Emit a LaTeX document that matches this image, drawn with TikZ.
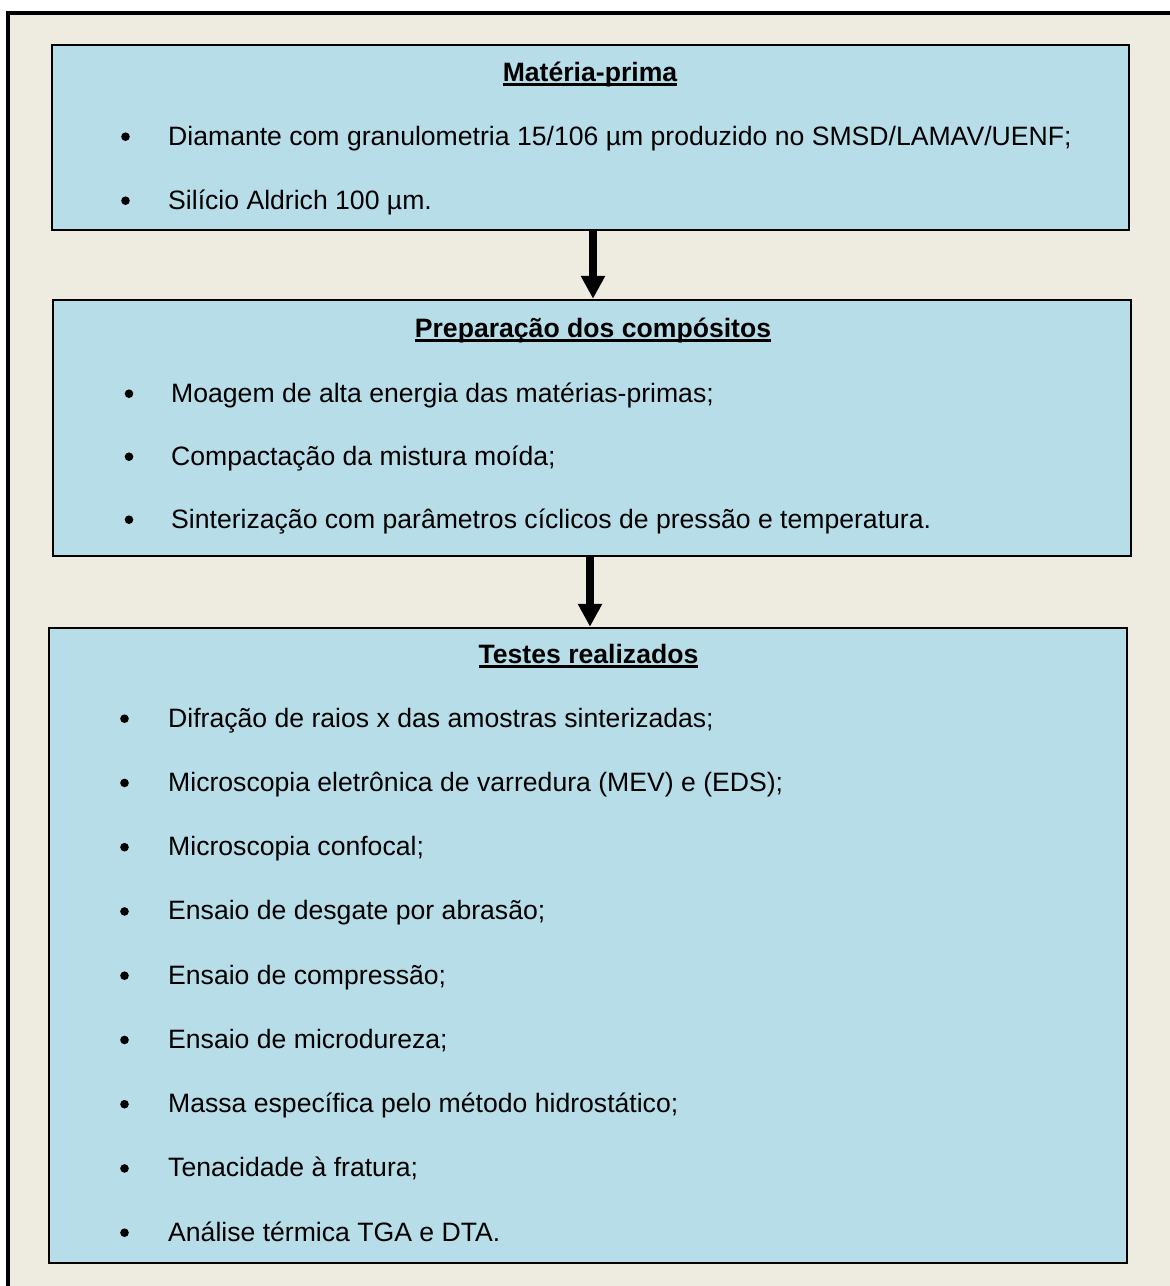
\documentclass[tikz,border=0pt]{standalone}
\usepackage{fontspec}
\setmainfont{Liberation Sans}
\usetikzlibrary{arrows.meta}
\definecolor{panel}{HTML}{B7DDE8}
\definecolor{paper}{HTML}{EEECE1}
% bold heading with a rule at a fixed depth under the baseline
\newcommand\headul[1]{\setbox0\hbox{\bfseries #1}\rlap{\rule[-5pt]{\wd0}{2.6pt}}\box0}
\begin{document}
\begin{tikzpicture}[x=1pt,y=-1pt,
  font=\fontsize{26.6}{32}\selectfont,
  box/.style={draw=black, line width=2.5pt, fill=panel, rectangle, inner sep=0pt},
  item/.style={anchor=base west, inner sep=0pt},
  dot/.style={circle, fill=black, inner sep=0pt, minimum size=8.6pt},
  head/.style={anchor=base, inner sep=0pt},
  flow/.style={line width=8pt, -{Triangle[width=23pt,length=23pt]}}]
\useasboundingbox (0,0) rectangle (1170,1286);
\fill[white] (0,0) rectangle (1170,1286);
% outer frame, running past the right and bottom edges
\draw[line width=3.5pt, fill=paper] (8,13) rectangle (1200,1320);

% boxes
\node[box, minimum width=1077pt, minimum height=185pt] (b1) at (590.5,137.5) {};
\node[box, minimum width=1078pt, minimum height=256pt] (b2) at (592,428) {};
\node[box, minimum width=1078pt, minimum height=635pt] (b3) at (588,945.5) {};

% connectors
\draw[flow] ([xshift=2.5pt]b1.south) -- ([xshift=2.5pt]b1.south |- b2.north);
\draw[flow] ([xshift=-2pt]b2.south) -- ([xshift=-2pt]b2.south |- b3.north);

% raw materials
\node[head] (h1) at (590,81) {\headul{Matéria-prima}};
\node[dot] (d11) at (125.5,136.7) {};
\node[item] (t11) at (168,145) {Diamante com granulometria 15/106 µm produzido no SMSD/LAMAV/UENF;};
\node[dot] (d12) at (125.5,200.7) {};
\node[item] (t12) at (168,209) {Silício Aldrich 100 µm.};

% composite preparation
\node[head] (h2) at (593,337) {\headul{Preparação dos compósitos}};
\node[dot] (d21) at (129,393.7) {};
\node[item] (t21) at (171,402) {Moagem de alta energia das matérias-primas;};
\node[dot] (d22) at (129,456.7) {};
\node[item] (t22) at (171,465) {Compactação da mistura moída;};
\node[dot] (d23) at (129,519.7) {};
\node[item] (t23) at (171,528) {Sinterização com parâmetros cíclicos de pressão e temperatura.};

% tests
\node[head] (h3) at (588.5,663) {\headul{Testes realizados}};
\foreach \txt [count=\i] in {
  Difração de raios x das amostras sinterizadas;,
  Microscopia eletrônica de varredura (MEV) e (EDS);,
  Microscopia confocal;,
  Ensaio de desgate por abrasão;,
  Ensaio de compressão;,
  Ensaio de microdureza;,
  Massa específica pelo método hidrostático;,
  Tenacidade à fratura;,
  Análise térmica TGA e DTA.}{
  \node[dot] (d3\i) at (124.5,{727-8.3+(\i-1)*64.25}) {};
  \node[item] (t3\i) at (168,{727+(\i-1)*64.25}) {\txt};
}
\end{tikzpicture}
\end{document}
